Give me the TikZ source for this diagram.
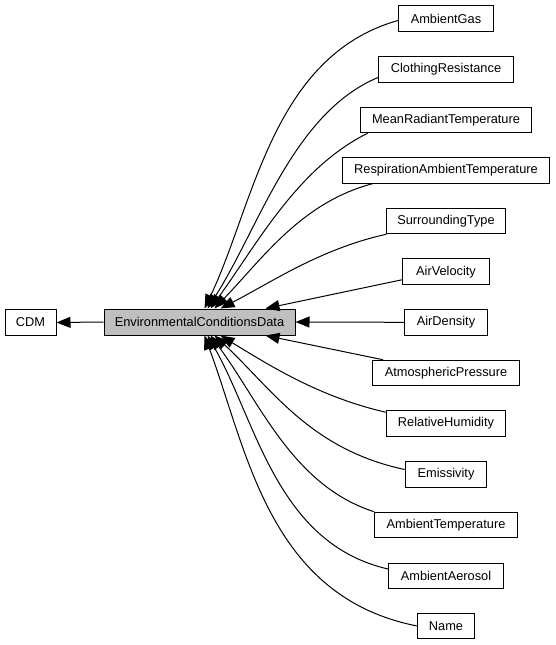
\documentclass[tikz,border=0pt]{standalone}
\usepackage{fontspec}
\setmainfont{Liberation Sans}
\usetikzlibrary{arrows.meta}
\definecolor{ecdgray}{HTML}{BFBFBF}
\tikzset{
  box/.style={draw=black, line width=1pt, fill=white, minimum height=25.5pt, inner sep=0pt,
    font=\fontsize{12.8}{15}\selectfont},
  arr/.style={draw=black, line width=1pt, -{Triangle[length=14pt,width=11pt]}}
}
\begin{document}
\begin{tikzpicture}[x=1pt,y=-1pt]
\useasboundingbox (0,0) rectangle (555,645);
\node[box, fill=ecdgray, minimum width=191pt, minimum height=26pt] (ECD) at (199.5,322) {EnvironmentalConditionsData};
\node[box, minimum width=51pt] (CDM) at (30.5,322.5) {CDM};
\node[box, minimum width=95pt]    (AG)  at (446,18.5)  {AmbientGas};
\node[box, minimum width=135pt]   (CR)  at (446,69.5)  {ClothingResistance};
\node[box, minimum width=171pt]   (MRT) at (446,119.8) {MeanRadiantTemperature};
\node[box, minimum width=207.6pt] (RAT) at (446,170.4) {RespirationAmbientTemperature};
\node[box, minimum width=118.3pt] (ST)  at (446,221)   {SurroundingType};
\node[box, minimum width=86.3pt]  (AV)  at (446,271.7) {AirVelocity};
\node[box, minimum width=83pt]    (AD)  at (446,322.3) {AirDensity};
\node[box, minimum width=147pt]   (AP)  at (446,373)   {AtmosphericPressure};
\node[box, minimum width=119.3pt] (RH)  at (446,423.5) {RelativeHumidity};
\node[box, minimum width=81.7pt]  (EM)  at (446,474.5) {Emissivity};
\node[box, minimum width=142.7pt] (AT)  at (446,525)   {AmbientTemperature};
\node[box, minimum width=115pt]   (AA)  at (446,576)   {AmbientAerosol};
\node[box, minimum width=56.6pt]  (NM)  at (446,626)   {Name};

\draw[arr] (ECD.west) -- (CDM.east);
% top group
\draw[arr] ([yshift=-2pt]AG.west) .. controls (272,56) and (254,205) .. ([xshift=101pt]ECD.north west);
\draw[arr] ([yshift=-8pt]CR.west) .. controls (293,113) and (259,228) .. ([xshift=104pt]ECD.north west);
\draw[arr] ([xshift=8pt]MRT.south west) .. controls (298,167.6) and (258.4,242) .. ([xshift=107pt]ECD.north west);
\draw[arr] ([xshift=31pt]RAT.south west) .. controls (301.7,202.2) and (262.3,258.7) .. ([xshift=111pt]ECD.north west);
\draw[arr] (ST.south west) .. controls (320.4,248.8) and (270.7,282.7) .. ([xshift=117pt]ECD.north west);
\draw[arr] ([yshift=-8pt]AV.west) -- ([xshift=162pt]ECD.north west);
% middle
\draw[arr] (AD.west) -- (ECD.east);
% bottom group
\draw[arr] ([xshift=11pt]AP.north west) -- ([xshift=162pt]ECD.south west);
\draw[arr] ([yshift=-2pt]RH.north west) .. controls (320,397.2) and (270.5,366.1) .. ([xshift=117pt]ECD.south west);
\draw[arr] ([yshift=5pt]EM.west) .. controls (310,449.3) and (272,388.8) .. ([xshift=111pt]ECD.south west);
\draw[arr] (AT.north west) .. controls (292.7,485.6) and (260,402.3) .. ([xshift=107pt]ECD.south west);
\draw[arr] ([yshift=7pt]AA.west) .. controls (276.5,543.3) and (256.7,421.6) .. ([xshift=104pt]ECD.south west);
\draw[arr] (NM.west) .. controls (268.8,596.9) and (247.5,451.4) .. ([xshift=101pt]ECD.south west);
\end{tikzpicture}
\end{document}
